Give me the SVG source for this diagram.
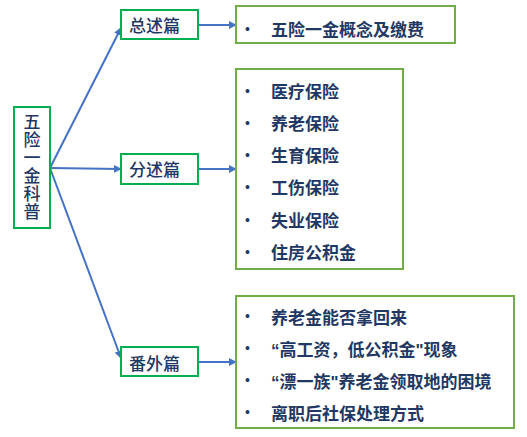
<svg xmlns="http://www.w3.org/2000/svg" width="527" height="437" viewBox="0 0 527 437">
<defs>
<marker id="arr" viewBox="0 0 10 10" refX="9" refY="5" markerWidth="4" markerHeight="4" orient="auto" markerUnits="strokeWidth">
<path d="M0,0 L10,5 L0,10 z" fill="#4472C4"/>
</marker>
<style>
.t{font-family:"Noto Sans CJK SC","Noto Sans",sans-serif;font-size:17px;font-weight:bold;fill:#1F3864}
.m{font-weight:500}
.q{font-family:"Liberation Sans",sans-serif;font-weight:bold}
.b{font-family:"Liberation Sans",sans-serif;font-size:14px;fill:#1F3864}
.v{writing-mode:vertical-rl;letter-spacing:1px}
.mid{fill:#fff;stroke:#00B050;stroke-width:2}
.rb{fill:#fff;stroke:#70AD47;stroke-width:2}
.c{fill:none;stroke:#4472C4;stroke-width:2;marker-end:url(#arr)}
</style>
</defs>
<rect width="527" height="437" fill="#fff"/>
<g id="connectors">
<line class="c" x1="50" y1="168" x2="121" y2="28"/>
<line class="c" x1="50" y1="168" x2="121" y2="169"/>
<line class="c" x1="50" y1="168" x2="121" y2="358"/>
<line class="c" x1="198" y1="25" x2="236" y2="25"/>
<line class="c" x1="198" y1="169" x2="236" y2="169"/>
<line class="c" x1="198" y1="362" x2="236" y2="362"/>
</g>
<g id="root">
<rect class="mid" x="14" y="107" width="36" height="121"/>
<text class="t m v" x="32" y="113">五险一金科普</text>
</g>
<g id="n-zongshu">
<rect class="mid" x="121" y="10" width="77" height="29"/>
<text class="t m" x="129" y="31.5">总述篇</text>
</g>
<g id="n-fenshu">
<rect class="mid" x="121" y="154" width="77" height="30"/>
<text class="t m" x="129" y="175.5">分述篇</text>
</g>
<g id="n-fanwai">
<rect class="mid" x="121" y="347" width="77" height="29"/>
<text class="t m" x="129" y="369.5">番外篇</text>
</g>
<g id="box-overview">
<rect class="rb" x="236" y="6" width="219" height="37"/>
<text class="b" x="245" y="34">•</text>
<text class="t" x="271" y="36">五险一金概念及缴费</text>
</g>
<g id="box-detail">
<rect class="rb" x="236" y="69" width="167" height="200"/>
<text class="b" x="245" y="96">•</text><text class="t" x="271" y="98">医疗保险</text>
<text class="b" x="245" y="128">•</text><text class="t" x="271" y="130">养老保险</text>
<text class="b" x="245" y="160">•</text><text class="t" x="271" y="162">生育保险</text>
<text class="b" x="245" y="192">•</text><text class="t" x="271" y="194">工伤保险</text>
<text class="b" x="245" y="225">•</text><text class="t" x="271" y="227">失业保险</text>
<text class="b" x="245" y="257">•</text><text class="t" x="271" y="259">住房公积金</text>
</g>
<g id="box-extra">
<rect class="rb" x="236" y="296" width="278" height="132"/>
<text class="b" x="245" y="321">•</text><text class="t" x="271" y="323.5">养老金能否拿回来</text>
<text class="b" x="245" y="353">•</text><text class="t" x="271" y="355.5"><tspan class="q">“</tspan>高工资，低公积金<tspan class="q">"</tspan>现象</text>
<text class="b" x="245" y="385">•</text><text class="t" x="271" y="387.5"><tspan class="q">“</tspan>漂一族<tspan class="q">"</tspan>养老金领取地的困境</text>
<text class="b" x="245" y="417">•</text><text class="t" x="271" y="419.5">离职后社保处理方式</text>
</g>
</svg>
